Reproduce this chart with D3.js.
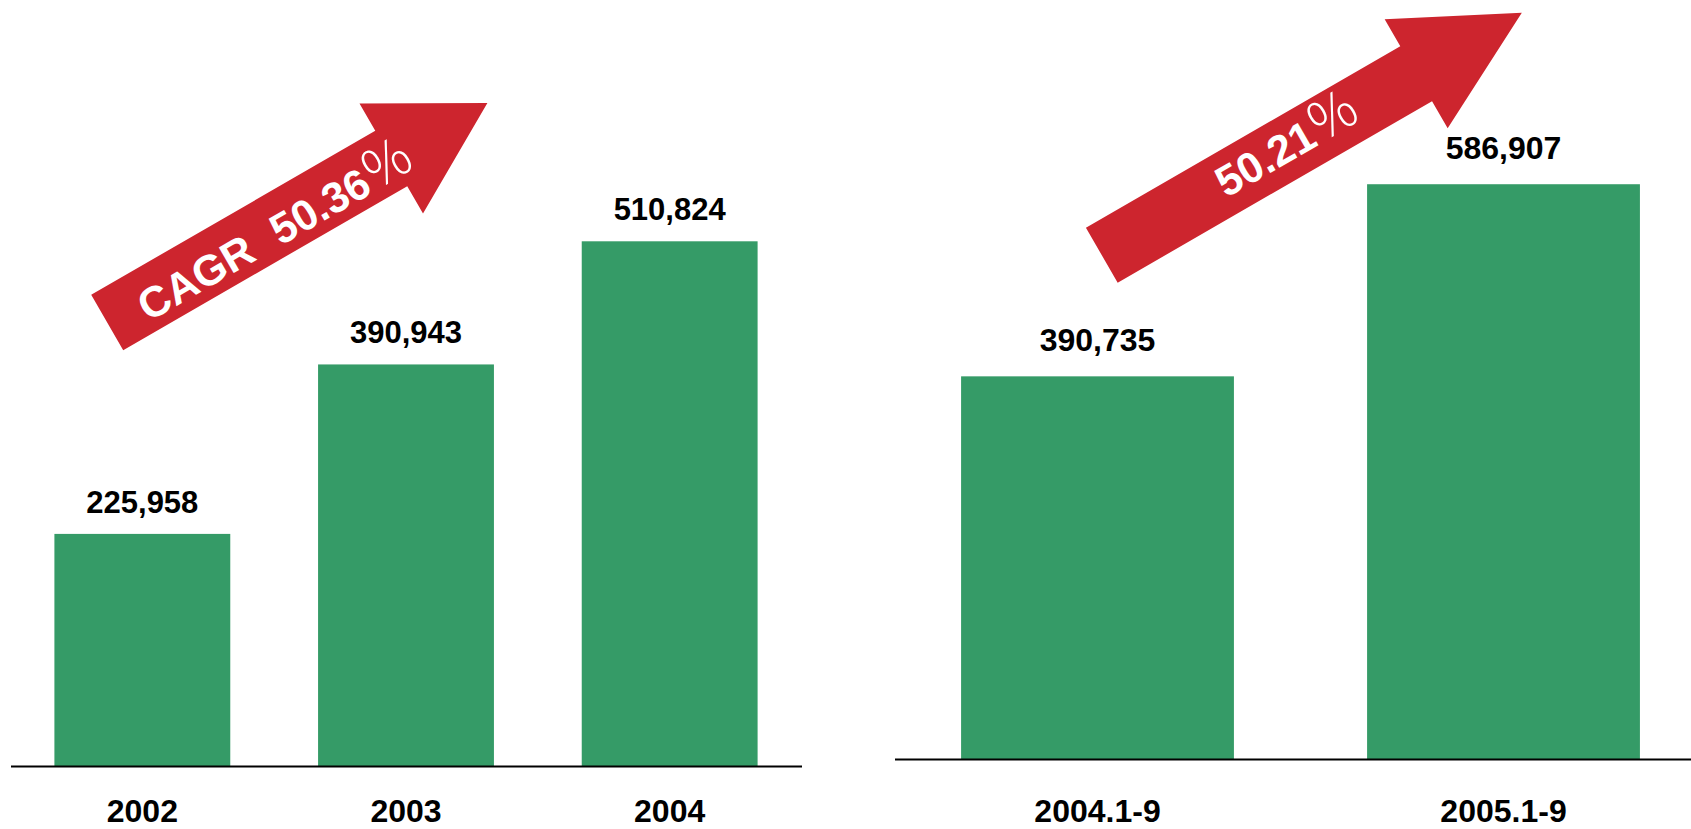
<!DOCTYPE html>
<html>
<head>
<meta charset="utf-8">
<script src="https://cdn.jsdelivr.net/npm/d3@7"></script>
<style>
  body { margin: 0; background: #fff; }
  svg { display: block; }
</style>
</head>
<body>
<svg id="chart" width="1691" height="829"></svg>
<script>
// data
var leftCats = ["2002", "2003", "2004"]
var leftValues = [225958, 390943, 510824]
var rightCats = ["2004.1-9", "2005.1-9"]
var rightValues = [390735, 586907]
var growthPrefix = ["CAGR", ""]
var growthRates = ["50.36", "50.21"]

var green = "#359b67"
var red = "#cd252e"
var svg = d3.select("#chart")
svg.append("rect").attr("width", 1691).attr("height", 829).attr("fill", "#fff")

var fmt = d3.format(",")

function drawPanel(cats, vals, cfg)
{
    var x = d3.scaleBand().domain(cats).range([cfg.x0, cfg.x1])
        .paddingInner(cfg.pad).paddingOuter(cfg.pad / 2)
    var y = d3.scaleLinear().domain([0, 600000]).range([cfg.base, cfg.top])
    var g = svg.append("g")

    g.selectAll("rect.bar").data(vals).enter().append("rect")
        .attr("class", "bar")
        .attr("x", function(d, i) { return x(cats[i]) })
        .attr("width", x.bandwidth())
        .attr("y", function(d) { return y(d) })
        .attr("height", function(d) { return cfg.base - y(d) })
        .attr("fill", green)

    g.selectAll("text.val").data(vals).enter().append("text")
        .attr("class", "val")
        .attr("x", function(d, i) { return x(cats[i]) + x.bandwidth() / 2 })
        .attr("y", function(d) { return y(d) - cfg.gap })
        .attr("text-anchor", "middle")
        .attr("font-family", "Liberation Sans, Arial, sans-serif")
        .attr("font-weight", "bold")
        .attr("font-size", cfg.fs)
        .attr("fill", "#000")
        .text(function(d) { return fmt(d) })

    var axis = d3.axisBottom(x).tickSize(0).tickPadding(cfg.tickPad)
    var ax = g.append("g").attr("transform", "translate(0," + cfg.base + ")").call(axis)
    ax.select(".domain").attr("stroke", "#000").attr("stroke-width", 2)
    ax.selectAll("text")
        .attr("font-family", "Liberation Sans, Arial, sans-serif")
        .attr("font-weight", "bold")
        .attr("font-size", 32)
        .attr("fill", "#000")
}

drawPanel(leftCats, leftValues, {x0: 10.5, x1: 801.5, pad: 0.333, base: 766, top: 149.7, gap: 21, fs: 31, tickPad: 33})
drawPanel(rightCats, rightValues, {x0: 894.5, x1: 1706.5, pad: 0.328, base: 759, top: 171.4, gap: 25, fs: 32, tickPad: 40})

// growth arrows
var arrows = [
    {cx: 107.2, cy: 322.5, L: 328, hl: 111, sw: 64, hw: 127, d: 192, off: 5},
    {cx: 1101.8, cy: 255.2, L: 363, hl: 122, sw: 63.5, hw: 126, d: 216, off: -2.5}
]

arrows.forEach(function(a, i)
{
    var g = svg.append("g").attr("transform", "translate(" + a.cx + "," + a.cy + ") rotate(-30)")
    var pts = [[0, -a.sw / 2], [a.L, -a.sw / 2], [a.L, -a.hw / 2], [a.L + a.hl, 0],
               [a.L, a.hw / 2], [a.L, a.sw / 2], [0, a.sw / 2]]
    g.append("path").attr("d", d3.line()(pts) + "Z").attr("fill", red)

    var t = g.append("text")
        .attr("x", a.d)
        .attr("y", a.off)
        .attr("dy", "0.36em")
        .attr("text-anchor", "middle")
        .attr("font-family", "Liberation Sans, Arial, sans-serif")
        .attr("font-weight", "bold")
        .attr("font-size", 43)
        .attr("fill", "#fff")
    if (growthPrefix[i]) t.append("tspan").text(growthPrefix[i])
    t.append("tspan").attr("dx", growthPrefix[i] ? 26 : 0).text(growthRates[i])
    t.append("tspan")
        .attr("font-family", "Noto Sans CJK SC")
        .attr("font-weight", 300)
        .attr("font-size", 52)
        .text("％")
})
</script>
</body>
</html>
